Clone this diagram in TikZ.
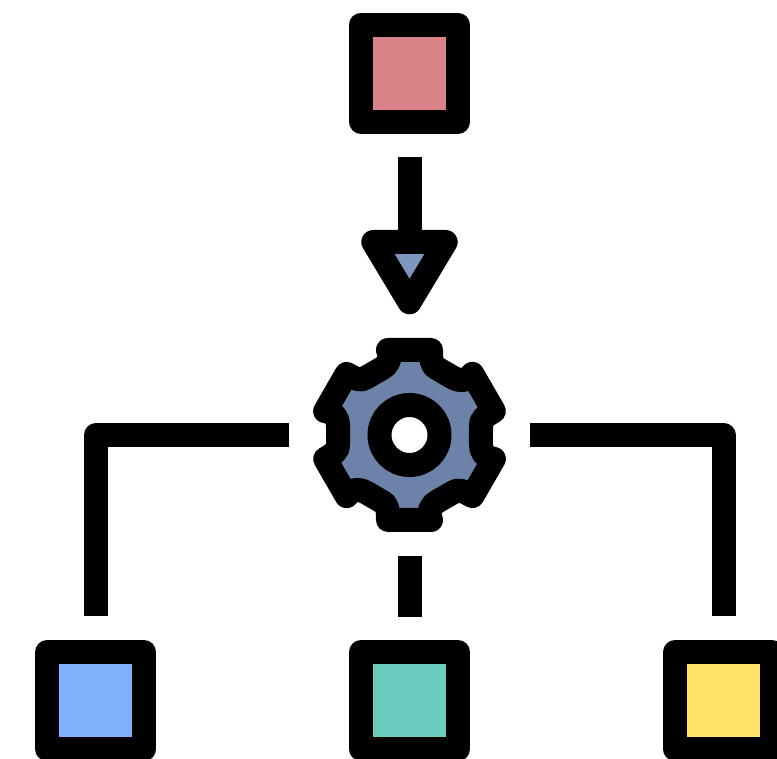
\documentclass[tikz,border=0pt]{standalone}
\definecolor{cpink}{HTML}{D98287}
\definecolor{carrow}{HTML}{7F97C0}
\definecolor{cgear}{HTML}{6D82A8}
\definecolor{cblue}{HTML}{7FB2FB}
\definecolor{cteal}{HTML}{6ACDC0}
\definecolor{cyellow}{HTML}{FFE369}
\tikzset{
  box/.style={draw=black,line width=24pt,line join=round,minimum size=97pt,inner sep=0pt,outer sep=0pt},
  link/.style={draw=black,line width=24pt,line join=round,line cap=butt},
  outline/.style={draw=black,line width=24pt,line join=round}
}
\begin{document}
\begin{tikzpicture}[x=1pt,y=-1pt]
\useasboundingbox (0,0) rectangle (777,759);
\clip (0,0) rectangle (777,759);
% boxes
\node[box,fill=cpink]   (top)   at (409.5,73.2)  {};
\node[box,fill=cblue]   (left)  at (95.7,700.7) {};
\node[box,fill=cteal]   (mid)   at (409.5,700.7) {};
\node[box,fill=cyellow] (right) at (723.5,700.7) {};
% gear centre and free ends
\coordinate (gear) at (409.5,435);
\coordinate (arrowstart) at (409.5,157);
\coordinate (arrowbase) at (409.5,242);
\coordinate (tipL) at (373.3,242);
\coordinate (tipR) at (445.7,242);
\coordinate (tipB) at (409.5,302.3);
\coordinate (gl) at (289,435);
\coordinate (gr) at (530,435);
\coordinate (gb) at (409.5,556);
\coordinate (ll) at (96,616);
\coordinate (rr) at (723.5,616);
\coordinate (mm) at (409.5,617);
\coordinate (lc) at (96,435);
\coordinate (rc) at (723.5,435);
% connectors
\draw[link] (arrowstart) -- (arrowbase);
\draw[outline,fill=carrow] (tipL) -- (tipR) -- (tipB) -- cycle;
\draw[link] (gl) -- (lc) -- (ll);
\draw[link] (gr) -- (rc) -- (rr);
\draw[link] (gb) -- (mm);
% gear
\begin{scope}[shift={(gear)}]
\draw[outline,fill=cgear]
  (-21.5,-85)
  \foreach \a in {0,-60,-120,-180,-240,-300}{
    -- ([rotate=\a]21.5,-85)
    .. controls ([rotate=\a]21.5,-75) and ([rotate=\a]22,-69) .. ([rotate=\a]28,-66.4)
    -- ([rotate=\a]43.5,-57.4)
    .. controls ([rotate=\a]49,-54) and ([rotate=\a]56.5,-53) .. ([rotate=\a]62.85,-61.1)
  } -- cycle;
\draw[line width=24pt,draw=black,fill=white] (0,0) circle (30pt);
\end{scope}
\end{tikzpicture}
\end{document}
